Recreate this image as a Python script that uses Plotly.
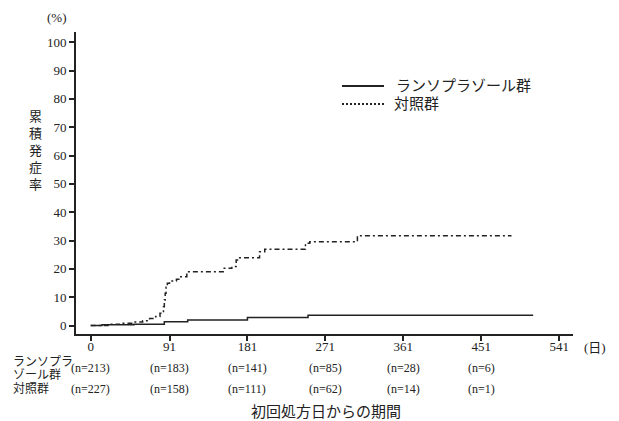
import plotly.graph_objects as go

# ---- data ----
lanso_days = [0, 13, 50, 85, 112, 181, 251, 511]
lanso_pct = [0.0, 0.3, 0.4, 1.3, 1.9, 2.8, 3.6, 3.6]

ctrl_days = [0, 20, 34, 50, 60, 68, 75, 80, 84, 85, 86, 87, 88.5, 91, 99, 103, 111,
             153, 163, 168, 172, 195, 201, 248, 253, 308, 486]
ctrl_pct = [0.0, 0.4, 0.8, 1.2, 1.7, 2.5, 3.2, 4.3, 6.6, 9.0, 11.4, 13.5, 14.9, 15.7, 16.3, 17.2, 19.0,
            20.2, 20.8, 23.1, 23.9, 26.0, 26.9, 29.0, 29.6, 31.7, 31.7]

x_ticks = [0, 91, 181, 271, 361, 451, 541]
y_ticks = [0, 10, 20, 30, 40, 50, 60, 70, 80, 90, 100]
risk_days = [0, 91, 181, 271, 361, 451]
lanso_n = [213, 183, 141, 85, 28, 6]
ctrl_n = [227, 158, 111, 62, 14, 1]

series_names = ["ランソプラゾール群", "対照群"]
row_label_lines = ["ランソプラ", "ゾール群", "対照群"]
y_title = "累積発症率"
x_title = "初回処方日からの期間"

FONT = "Liberation Serif, Noto Sans CJK JP, serif"
INK = "#222222"

OFF = 8  # page body margin
W, H = 619 - OFF, 421 - OFF
L, R, T, B = 76 - OFF, 46, 32 - OFF, 87
pw, ph = W - L - R, H - T - B


def px(x):
    return (x - OFF - L) / pw


def py(y):
    return (H - B - (y - OFF)) / ph


fig = go.Figure()
fig.add_trace(go.Scatter(x=lanso_days, y=lanso_pct, mode="lines", line_shape="hv",
                         name=series_names[0], showlegend=False,
                         line=dict(color=INK, width=1.5)))
fig.add_trace(go.Scatter(x=ctrl_days, y=ctrl_pct, mode="lines", line_shape="hv",
                         name=series_names[1], showlegend=False,
                         line=dict(color=INK, width=1.5, dash="5px,3px,2px,3px")))


def note(text, x, y, size=13, xanchor="center", xref="paper"):
    return dict(text=text, x=x, y=y, xref=xref, yref="paper", showarrow=False,
                xanchor=xanchor, yanchor="middle", align="left",
                font=dict(size=size, family=FONT, color=INK))


annotations = [
    note("(%)", px(57), py(18)),
    note("(日)", px(595), py(347)),
    note("<br>".join(list(y_title)), px(35), py(150), size=13),
    note(x_title, px(326), py(412), size=15),
    note(row_label_lines[0], px(11), py(362), size=12, xanchor="left"),
    note(row_label_lines[1], px(11), py(375), size=12, xanchor="left"),
    note(row_label_lines[2], px(11), py(389), size=12, xanchor="left"),
    note(series_names[0], px(394), py(86), size=15, xanchor="left"),
    note(series_names[1], px(392), py(104), size=15, xanchor="left"),
]
for d, n1, n2 in zip(risk_days, lanso_n, ctrl_n):
    annotations.append(note(f"(n={n1})", d, py(368), size=12, xref="x"))
    annotations.append(note(f"(n={n2})", d, py(389), size=12, xref="x"))

shapes = [
    dict(type="line", xref="paper", yref="paper", x0=px(342), x1=px(384), y0=py(86), y1=py(86),
         line=dict(color=INK, width=1.8)),
    dict(type="line", xref="paper", yref="paper", x0=px(342), x1=px(384), y0=py(104), y1=py(104),
         line=dict(color=INK, width=1.8, dash="2px,2px")),
]

fig.update_layout(
    width=W, height=H,
    margin=dict(l=L, r=R, t=T, b=B),
    paper_bgcolor="white", plot_bgcolor="white",
    font=dict(family=FONT, size=13, color=INK),
    showlegend=False,
    annotations=annotations,
    shapes=shapes,
)
fig.update_xaxes(range=[-17, 557], tickvals=x_ticks, ticktext=[str(t) for t in x_ticks],
                 showgrid=False, zeroline=False, showline=True, linecolor=INK, linewidth=2,
                 ticks="outside", ticklen=5, tickwidth=1.5, tickcolor=INK, automargin=False,
                 ticklabelstandoff=-6,
                 tickfont=dict(size=13, family=FONT, color=INK))
fig.update_yaxes(range=[-3.0, 103.6], tickvals=y_ticks,
                 showgrid=False, zeroline=False, showline=True, linecolor=INK, linewidth=2,
                 ticks="outside", ticklen=5, tickwidth=1.5, tickcolor=INK, automargin=False,
                 tickfont=dict(size=13, family=FONT, color=INK))

fig.write_html("out.html")
